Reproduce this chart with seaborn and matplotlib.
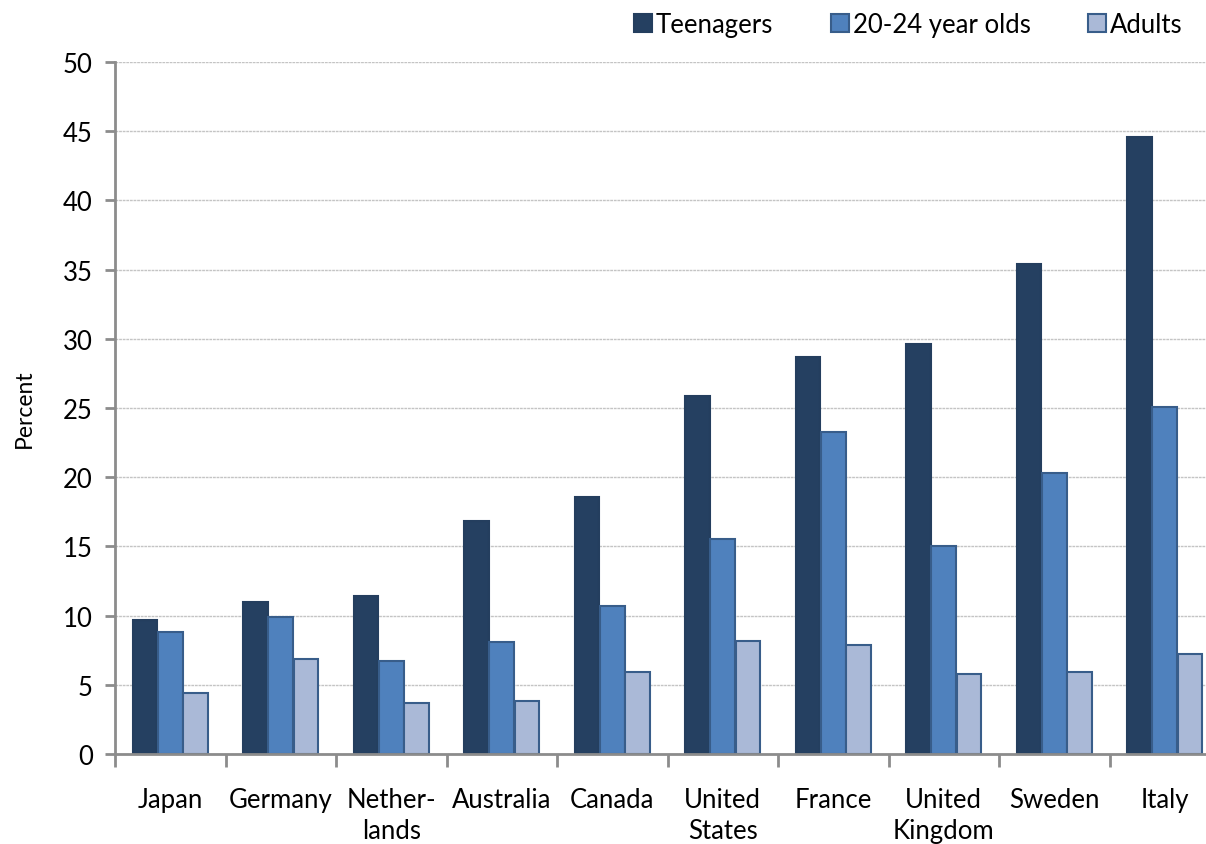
import numpy as np
import pandas as pd
import matplotlib
matplotlib.use("Agg")
import matplotlib.pyplot as plt
from matplotlib.patches import Patch
import seaborn as sns

# data
countries = ["Japan", "Germany", "Nether-\nlands", "Australia", "Canada",
             "United\nStates", "France", "United\nKingdom", "Sweden", "Italy"]
teenagers = [9.7, 11.0, 11.4, 16.8, 18.6, 25.9, 28.7, 29.6, 35.4, 44.6]
young_adults = [8.8, 9.9, 6.7, 8.1, 10.7, 15.5, 23.3, 15.0, 20.3, 25.1]
adults = [4.4, 6.9, 3.7, 3.8, 5.9, 8.2, 7.9, 5.8, 5.9, 7.2]
groups = ["Teenagers", "20-24 year olds", "Adults"]

df = pd.DataFrame({"Country": countries, groups[0]: teenagers,
                   groups[1]: young_adults, groups[2]: adults})
df = df.melt(id_vars="Country", var_name="Group", value_name="Percent")

fills = ["#254061", "#4F81BD", "#AAB9D7"]
edges = ["#243E5E", "#385D8A", "#385D8A"]

sns.set_style("white")
plt.rcParams["font.family"] = ["Lato", "DejaVu Sans"]
plt.rcParams["text.color"] = "black"
plt.rcParams["xtick.labelcolor"] = "black"
plt.rcParams["ytick.labelcolor"] = "black"
plt.rcParams["axes.labelcolor"] = "black"

fig = plt.figure(figsize=(12.06, 8.45), dpi=100)
ax = fig.add_axes([115 / 1206, 90 / 845, 1105 / 1206, 692 / 845])

sns.barplot(data=df, x="Country", y="Percent", hue="Group", hue_order=groups,
            palette=fills, saturation=1, width=0.68, gap=0.02, legend=False,
            ax=ax, linewidth=0)

# colour the bar outlines per series
for cont, ec in zip(ax.containers, edges):
    for bar in cont:
        bar.set_edgecolor(ec)
        bar.set_linewidth(1.5)

ax.set_ylim(0, 50)
ax.set_xlim(-0.5, 9.5)
ax.set_yticks(np.arange(0, 51, 5))
ax.yaxis.grid(True, color="#C4C4C4", linewidth=1, linestyle=(0, (2, 0.6)))
ax.set_axisbelow(True)

for s in ["top", "right"]:
    ax.spines[s].set_visible(False)
for s in ["left", "bottom"]:
    ax.spines[s].set_color("#8C8C8C")
    ax.spines[s].set_linewidth(2)

ax.set_xticks(np.arange(-0.5, 10, 1), minor=True)
ax.tick_params(axis="x", which="major", length=0, pad=24, labelsize=18.5)
ax.tick_params(axis="x", which="minor", length=9, width=2, color="#8C8C8C",
               direction="out", bottom=True)
ax.tick_params(axis="y", length=7, width=2, color="#8C8C8C", direction="out",
               left=True, labelsize=18.5, pad=9)
for lbl in ax.get_xticklabels():
    lbl.set_linespacing(1.3)
ax.set_xlabel("")
ax.set_ylabel("Percent", fontsize=16.5, labelpad=20)

handles = [Patch(facecolor=f, edgecolor=e, linewidth=1.5) for f, e in zip(fills, edges)]
fig.legend(handles, groups, loc="upper right", bbox_to_anchor=(1.0, 1.012), ncol=3,
           frameon=False, fontsize=18.5, handlelength=0.7, handleheight=0.7,
           handletextpad=0.15, columnspacing=2.25)

fig.savefig("out.png", dpi=100)
